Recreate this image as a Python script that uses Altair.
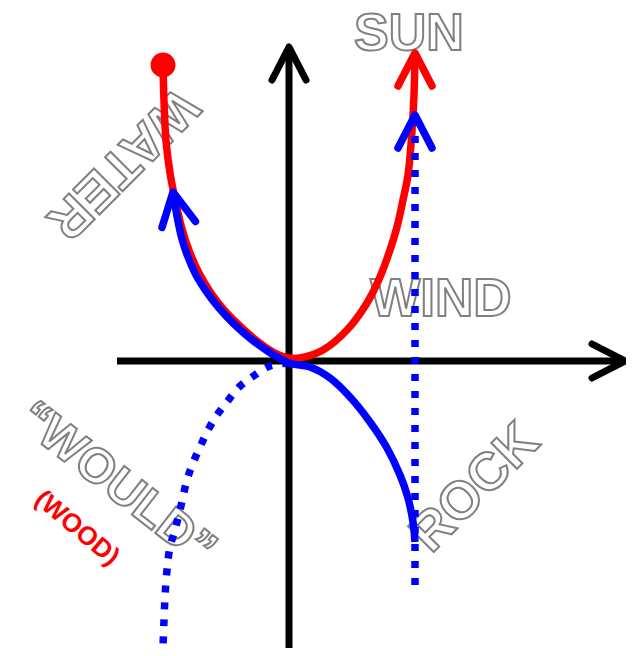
import math
import altair as alt
import pandas as pd

# Diagram coordinates: origin where the two axes cross, x to the right, y upward.
# Red curve (WATER -> SUN)
red_x = [-126, -125, -123, -119, -114, -107, -99, -90, -78, -64, -48, -32, -16, 0, 11, 34, 58, 78, 91, 101, 108, 114, 119, 123, 125, 126]
red_y = [296, 260, 220, 188, 162, 132, 108, 88, 68, 50, 34, 20, 9, 3, 3, 11, 31, 58, 84, 111, 134, 161, 186, 230, 266, 306]

# Blue solid curve (ROCK -> WATER)
blue_x = [-116, -112, -107, -101, -93, -83, -70, -55, -38, -20, 0, 21, 41, 61, 81, 98, 111, 119, 124, 126]
blue_y = [169, 145, 122, 104, 86, 70, 53, 37, 22, 9, -2, -6, -17, -36, -61, -87, -114, -137, -161, -181]

# Blue dotted curve ("WOULD")
dotted_x = [0, -19, -37, -51, -62, -72, -81, -89, -96, -102, -109, -114, -119, -122, -124, -125, -126]
dotted_y = [-2, -5, -16, -27, -41, -54, -69, -86, -102, -119, -149, -169, -186, -209, -236, -259, -286]

# Blue dotted vertical (WIND)
vert_x = [126, 126]
vert_y = [-224, 246]

# Axes
haxis_x = [-172, 336]
haxis_y = [0, 0]
vaxis_x = [0, 0]
vaxis_y = [-289, 314]

# Arrowheads: tip position, pointing direction (degrees), colour
head_x = [336, 0, 126, 126, -116]
head_y = [0, 314, 308, 246, 169]
head_dir = [0, 90, 90, 90, 100]
head_col = ["black", "black", "red", "blue", "blue"]

# Red dot at start of red curve
dot_x = [-126]
dot_y = [296]

# Labels
lab_text = ["SUN", "WIND", "WATER", "ROCK", "\u201cWOULD\u201d"]
lab_x = [120, 152, -167, 186, -172]
lab_y = [327, 61, 198, -127, -123]
lab_angle = [0, 0, 135, 315, 38]
lab_size = [52, 53, 53, 53, 49]

wood_text = ["(WOOD)"]
wood_x = [-212]
wood_y = [-167]
wood_angle = [40]
wood_size = [26]

HEAD_LEN = 33
HEAD_HALF = 17

X = lambda: alt.X("x:Q", scale=alt.Scale(domain=[-281, 337], nice=False, zero=False), axis=None)
Y = lambda: alt.Y("y:Q", scale=alt.Scale(domain=[-287, 353], nice=False, zero=False), axis=None)


def path_df(xs, ys, seg="s"):
    return pd.DataFrame({"x": xs, "y": ys, "i": list(range(len(xs))), "seg": seg})


def heads_df(colour):
    rows = []
    for k, (tx, ty, d, c) in enumerate(zip(head_x, head_y, head_dir, head_col)):
        if c != colour:
            continue
        a = math.radians(d)
        ux, uy = math.cos(a), math.sin(a)
        px, py = -uy, ux
        bx, by = tx - ux * HEAD_LEN, ty - uy * HEAD_LEN
        pts = [(bx + px * HEAD_HALF, by + py * HEAD_HALF), (tx, ty), (bx - px * HEAD_HALF, by - py * HEAD_HALF)]
        for i, (x, y) in enumerate(pts):
            rows.append({"x": x, "y": y, "i": i, "seg": f"h{k}"})
    return pd.DataFrame(rows)


def line(df, colour, width=7.5, **kw):
    return alt.Chart(df).mark_line(color=colour, strokeWidth=width, **kw).encode(
        x=X(), y=Y(), order=alt.Order("i:Q"), detail="seg:N"
    )


axes_df = pd.concat([path_df(haxis_x, haxis_y, "h"), path_df(vaxis_x, vaxis_y, "v")])

labels = alt.Chart(pd.DataFrame({"x": lab_x, "y": lab_y, "t": lab_text, "a": lab_angle, "s": lab_size})).mark_text(
    font="Liberation Sans", fontWeight="bold", fill="white", fillOpacity=0,
    stroke="#808080", strokeWidth=2, align="center", baseline="middle"
).encode(x=X(), y=Y(), text="t:N", angle=alt.Angle("a:Q", scale=None), size=alt.Size("s:Q", scale=None))

wood = alt.Chart(pd.DataFrame({"x": wood_x, "y": wood_y, "t": wood_text, "a": wood_angle, "s": wood_size})).mark_text(
    font="Liberation Sans", fontWeight="bold", color="red", align="center", baseline="middle"
).encode(x=X(), y=Y(), text="t:N", angle=alt.Angle("a:Q", scale=None), size=alt.Size("s:Q", scale=None))

layers = [
    line(axes_df, "black", 7),
    line(heads_df("black"), "black", 7, strokeCap="round", strokeJoin="round"),
    labels,
    wood,
    line(path_df(red_x, red_y), "red", 7.5, interpolate="catmull-rom"),
    line(heads_df("red"), "red", 7.5, strokeCap="round", strokeJoin="round"),
    alt.Chart(pd.DataFrame({"x": dot_x, "y": dot_y})).mark_circle(color="red", size=620, opacity=1).encode(x=X(), y=Y()),
    line(path_df(dotted_x, dotted_y), "blue", 7.5, interpolate="catmull-rom", strokeDash=[7, 10]),
    line(path_df(vert_x, vert_y), "blue", 7.5, strokeDash=[7, 10]),
    line(path_df(blue_x, blue_y), "blue", 7.5, interpolate="catmull-rom"),
    line(heads_df("blue"), "blue", 7.5, strokeCap="round", strokeJoin="round"),
]

chart = alt.layer(*layers).properties(
    width=618, height=640, padding=0, autosize=alt.AutoSizeParams(type="none"), background="white"
).configure_view(stroke=None)

chart.save("out.html", embed_options={"renderer": "svg", "actions": False})
